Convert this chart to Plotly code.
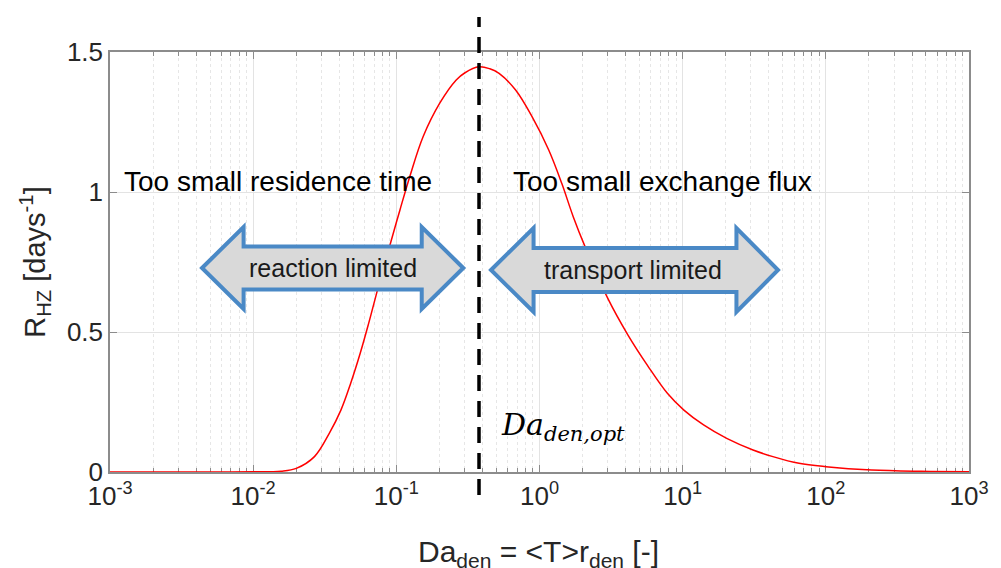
import plotly.graph_objects as go

# ---- data ----
da_values = [0.001, 0.003, 0.006, 0.01, 0.0157, 0.02, 0.0268, 0.034, 0.041, 0.048,
             0.056, 0.064, 0.0734, 0.0908, 0.106, 0.125, 0.154, 0.201, 0.262, 0.30,
             0.378, 0.45, 0.522, 0.681, 0.887, 1.16, 1.43, 1.72, 2.08, 3.0, 4.14,
             5.69, 7.82, 10.2, 14.0, 20.3, 31.0, 42.7, 65, 100, 209, 465, 1000]
r_hz = [0.0, 0.0, 0.0, 0.0005, 0.003, 0.013, 0.055, 0.138, 0.221, 0.317,
        0.425, 0.530, 0.645, 0.815, 0.936, 1.060, 1.198, 1.317, 1.400, 1.425,
        1.447, 1.440, 1.424, 1.364, 1.269, 1.150, 1.031, 0.912, 0.805, 0.620, 0.490,
        0.380, 0.281, 0.221, 0.168, 0.120, 0.0786, 0.055, 0.031, 0.019, 0.007, 0.0025, 0.001]
da_opt = 0.378

x_tick_vals = [1e-3, 1e-2, 1e-1, 1e0, 1e1, 1e2, 1e3]
x_tick_text = ["10<sup>-3</sup>", "10<sup>-2</sup>", "10<sup>-1</sup>", "10<sup>0</sup>",
               "10<sup>1</sup>", "10<sup>2</sup>", "10<sup>3</sup>"]
y_tick_vals = [0, 0.5, 1, 1.5]
y_tick_text = ["0", "0.5", "1", "1.5"]

# ---- layout geometry (pixels) ----
W, H = 1001, 568
L, R, T, B = 110, 978, 52, 472

def px(x):
    return (x - L) / (R - L)

def py(y):
    return (B - y) / (B - T)

def arrow_path(x_tip_l, x_base_l, x_base_r, x_tip_r, y_c, head_half, shaft_half):
    pts = [(x_tip_l, y_c), (x_base_l, y_c - head_half), (x_base_l, y_c - shaft_half),
           (x_base_r, y_c - shaft_half), (x_base_r, y_c - head_half), (x_tip_r, y_c),
           (x_base_r, y_c + head_half), (x_base_r, y_c + shaft_half),
           (x_base_l, y_c + shaft_half), (x_base_l, y_c + head_half)]
    return "M " + " L ".join(f"{px(a):.5f},{py(b):.5f}" for a, b in pts) + " Z"

FONT = "Liberation Sans, Arial, sans-serif"
GRID = "#e3e3e3"
AXC = "#8c8c8c"
TICKFONT = dict(size=26, family=FONT, color="#262626")

fig = go.Figure()
fig.add_trace(go.Scatter(
    x=da_values, y=r_hz, mode="lines",
    line=dict(color="#ff0000", width=1.5, shape="spline", smoothing=1.0),
    showlegend=False, hoverinfo="skip"))

fig.update_layout(
    width=W, height=H,
    margin=dict(l=L, r=W - R, t=T, b=H - B, pad=0),
    paper_bgcolor="white", plot_bgcolor="white",
    font=dict(family=FONT, size=24, color="#262626"),
    showlegend=False,
    xaxis=dict(
        type="log", range=[-3, 3],
        tickvals=x_tick_vals, ticktext=x_tick_text,
        ticks="inside", ticklen=7, tickcolor=AXC, tickwidth=1,
        showline=True, linecolor=AXC, linewidth=1.5, mirror="ticks",
        showgrid=True, gridcolor=GRID, gridwidth=1,
        minor=dict(ticks="inside", ticklen=4, tickcolor=AXC, dtick="D1",
                   showgrid=True, gridcolor="#e6e6e6", griddash="dot"),
        tickfont=TICKFONT,
        layer="below traces", zeroline=False,
    ),
    yaxis=dict(
        range=[0, 1.5],
        tickvals=y_tick_vals, ticktext=y_tick_text,
        ticks="inside", ticklen=7, tickcolor=AXC,
        showline=True, linecolor=AXC, linewidth=1.5, mirror="ticks",
        showgrid=True, gridcolor=GRID, gridwidth=1,
        tickfont=TICKFONT,
        layer="below traces", zeroline=False,
    ),
)

# dashed vertical optimum line
fig.add_shape(type="line", xref="x", yref="paper",
              x0=da_opt, x1=da_opt, y0=py(495), y1=py(17),
              line=dict(color="black", width=3.5, dash="16px,10px"))

# double arrows
ARROW_LINE = "#4a89c6"
ARROW_FILL = "#d9d9d9"
fig.add_shape(type="path", xref="paper", yref="paper",
              path=arrow_path(203, 245, 425, 467, 268, 41, 21.5),
              line=dict(color=ARROW_LINE, width=4), fillcolor=ARROW_FILL)
fig.add_shape(type="path", xref="paper", yref="paper",
              path=arrow_path(495, 538, 743, 785, 270, 42, 22),
              line=dict(color=ARROW_LINE, width=4), fillcolor=ARROW_FILL)

ann = []
ann.append(dict(text="reaction limited", x=px(335), y=py(268), xref="paper", yref="paper",
                showarrow=False, font=dict(size=25, family=FONT, color="#1a1a1a"),
                xanchor="center", yanchor="middle"))
ann.append(dict(text="transport limited", x=px(638), y=py(270), xref="paper", yref="paper",
                showarrow=False, font=dict(size=25, family=FONT, color="#1a1a1a"),
                xanchor="center", yanchor="middle"))
ann.append(dict(text="Too small residence time", x=px(122), y=py(181), xref="paper", yref="paper",
                showarrow=False, font=dict(size=28, family=FONT, color="black"),
                xanchor="left", yanchor="middle"))
ann.append(dict(text="Too small exchange flux", x=px(515), y=py(181), xref="paper", yref="paper",
                showarrow=False, font=dict(size=28, family=FONT, color="black"),
                xanchor="left", yanchor="middle"))
ann.append(dict(text="<i>Da</i><sub><i>den,opt</i></sub>", x=px(503), y=py(426), xref="paper", yref="paper",
                showarrow=False, font=dict(size=30, family="DejaVu Serif, Liberation Serif, serif", color="black"),
                xanchor="left", yanchor="middle"))
# axis titles
ann.append(dict(text="R<sub>HZ</sub> [days<sup>-1</sup>]", x=px(34), y=py(262), xref="paper", yref="paper",
                showarrow=False, textangle=-90, font=dict(size=29, family=FONT, color="#262626"),
                xanchor="center", yanchor="middle"))
ann.append(dict(text="Da<sub>den</sub> = &lt;T&gt;r<sub>den</sub> [-]", x=px(543), y=py(553), xref="paper", yref="paper",
                showarrow=False, font=dict(size=30, family=FONT, color="#262626"),
                xanchor="center", yanchor="middle"))
fig.update_layout(annotations=ann)

fig.write_html("out.html")
